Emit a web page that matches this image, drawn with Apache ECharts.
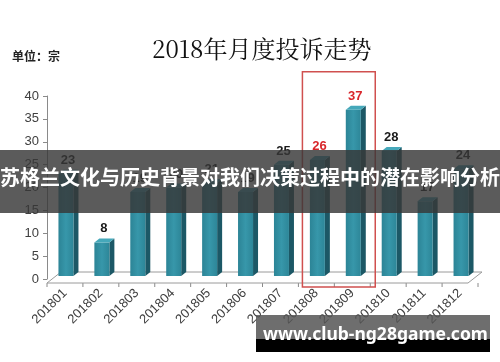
<!DOCTYPE html>
<html><head><meta charset="utf-8">
<script src="https://cdn.jsdelivr.net/npm/echarts@6/dist/echarts.min.js"></script>
<style>html,body{margin:0;padding:0;background:#fff}#c{width:500px;height:362px}</style>
</head><body><div id="c"></div>
<script>
const categories = ['201801','201802','201803','201804','201805','201806','201807','201808','201809','201810','201811','201812'];
const complaints = [23, 8, 19, 20, 21, 19, 25, 26, 37, 28, 17, 24];
const highlighted = ['201808','201809'];
const yTicks = [0, 40, 5];

const chart = echarts.init(document.getElementById('c'), null, {renderer:'canvas'});

function renderItem(params, api) {
  const idx = api.value(0), v = api.value(1);
  const top = api.coord([idx, v]);
  const base = api.coord([idx, 0]);
  const bw = 15, d = 5, dy = 4;
  const xl = top[0] - bw / 2 + 1, xr = xl + bw;
  const yb = base[1] - 3, yt = top[1];
  const hl = highlighted.indexOf(categories[idx]) >= 0;
  return {
    type: 'group',
    children: [
      {type: 'polygon', shape: {points: [[xr, yt], [xr + d, yt - dy], [xr + d, yb - dy], [xr, yb]]},
       style: {fill: '#1c5866'}},
      {type: 'rect', shape: {x: xl, y: yt, width: bw, height: yb - yt},
       style: {fill: new echarts.graphic.LinearGradient(0, 0, 1, 0, [
         {offset: 0, color: '#2c8496'}, {offset: 0.5, color: '#3797aa'}, {offset: 1, color: '#2d8698'}])}},
      {type: 'polygon', shape: {points: [[xl, yt], [xl + d, yt - dy], [xr + d, yt - dy], [xr, yt]]},
       style: {fill: '#45a8ba'}},
      {type: 'text', style: {text: String(v), x: top[0] + 3, y: yt - dy - 3,
        align: 'center', verticalAlign: 'bottom',
        fill: hl ? '#d9262b' : '#1a1a1a', font: 'bold 13px "Liberation Sans", Arial, sans-serif'}}
    ]
  };
}

chart.setOption({
  animation: false,
  grid: {left: 47, right: 22, top: 96, bottom: 83},
  xAxis: {
    type: 'category', data: categories,
    axisLine: {show: false},
    axisTick: {show: false},
    axisLabel: {rotate: 45, margin: 12, color: '#404040', fontSize: 13,
      fontFamily: '"Liberation Sans", Arial, sans-serif'}
  },
  yAxis: {
    type: 'value', min: yTicks[0], max: yTicks[1], interval: yTicks[2],
    splitLine: {show: false},
    axisLine: {show: true, lineStyle: {color: '#8a8a8a'}},
    axisTick: {show: true, length: 4, lineStyle: {color: '#8a8a8a'}},
    axisLabel: {color: '#404040', fontSize: 13, margin: 8,
      fontFamily: '"Liberation Sans", Arial, sans-serif'}
  },
  series: [{
    type: 'custom', renderItem: renderItem,
    data: complaints.map((v, i) => [i, v]),
    encode: {x: 0, y: 1}, z: 3
  }]
});

const p0 = chart.convertToPixel({xAxisIndex: 0, yAxisIndex: 0}, [0, 0]);
const pN = chart.convertToPixel({xAxisIndex: 0, yAxisIndex: 0}, [categories.length - 1, 0]);
const band = (pN[0] - p0[0]) / (categories.length - 1);
const leftX = p0[0] - band / 2, rightX = pN[0] + band / 2;
const y0 = p0[1];
const hA = chart.convertToPixel({xAxisIndex: 0, yAxisIndex: 0}, [categories.indexOf(highlighted[0]), 0]);
const hB = chart.convertToPixel({xAxisIndex: 0, yAxisIndex: 0}, [categories.indexOf(highlighted[1]), 37]);
const ticks = [];
for (let i = 0; i <= categories.length; i++) {
  const x = leftX + i * band;
  ticks.push({type: 'line', shape: {x1: x, y1: y0 + 4, x2: x, y2: y0 + 8}, style: {stroke: '#8a8a8a', lineWidth: 1}});
}
chart.setOption({
  graphic: [
    {type: 'polyline', z: 1, shape: {points: [[leftX, y0 + 4], [rightX - 10, y0 + 4], [rightX + 4, y0 - 7], [leftX + 14, y0 - 7], [leftX, y0 + 4]]},
      style: {stroke: '#9a9a9a', fill: null, lineWidth: 1}},
    ...ticks,
    {type: 'rect', z: 10, shape: {x: hA[0] - band / 2 + 4, y: hB[1] - 38, width: band * 2 + 1, height: y0 + 8 - (hB[1] - 38)},
      style: {stroke: '#d0504f', fill: null, lineWidth: 1.5}},
    {type: 'text', left: 152, top: 37, z: 10,
      style: {text: '2018年月度投诉走势', font: '24px "Noto Serif CJK SC", "Noto Sans CJK SC", serif', fill: '#111'}},
    {type: 'text', left: 12, top: 50, z: 10,
      style: {text: '单位：宗', font: 'bold 12px "Noto Sans CJK SC", sans-serif', fill: '#222'}},
    {type: 'rect', z: 20, shape: {x: 0, y: 150, width: 500, height: 63}, style: {fill: 'rgba(55,55,55,0.82)'}},
    {type: 'text', z: 21, left: 'center', top: 167,
      style: {text: '苏格兰文化与历史背景对我们决策过程中的潜在影响分析', font: 'bold 20px "Noto Sans CJK SC", sans-serif', fill: '#fff'}},
    {type: 'rect', z: 20, shape: {x: 256, y: 315, width: 234, height: 25}, style: {fill: 'rgba(85,85,85,0.85)'}},
    {type: 'rect', z: 20, shape: {x: 256, y: 339, width: 234, height: 13}, style: {fill: '#000'}},
    {type: 'text', z: 21, left: 263, top: 326,
      style: {text: 'www.club-ng28game.com', font: 'bold 17.5px "Noto Sans", "DejaVu Sans", sans-serif', fill: '#fff'}}
  ]
});
</script></body></html>
